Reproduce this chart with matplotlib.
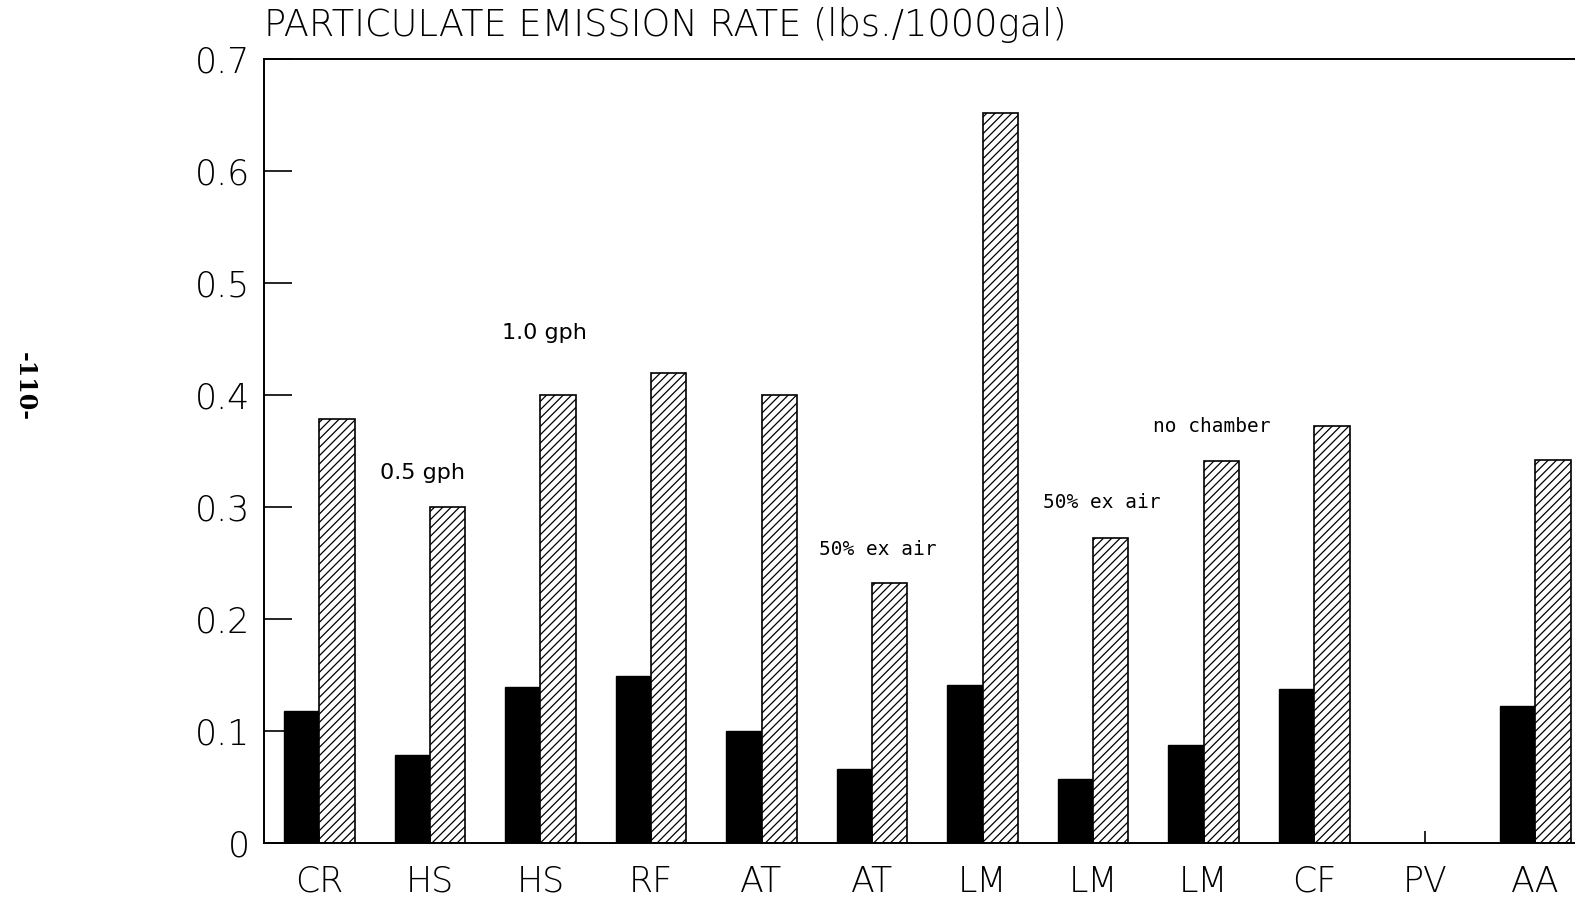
import numpy as np
import matplotlib.pyplot as plt

# values
labels = ["CR", "HS", "HS", "RF", "AT", "AT", "LM", "LM", "LM", "CF", "PV", "AA"]
solid_vals = [0.118, 0.078, 0.139, 0.149, 0.100, 0.066, 0.141, 0.057, 0.087, 0.137, 0.0, 0.122]
hatch_vals = [0.379, 0.300, 0.400, 0.420, 0.400, 0.232, 0.652, 0.272, 0.341, 0.372, 0.0, 0.342]

notes = ["0.5 gph", "1.0 gph", "50% ex air", "50% ex air", "no chamber"]
note_x = [0.93, 2.04, 5.05, 7.08, 8.07]
note_y = [0.330, 0.455, 0.262, 0.304, 0.372]
note_mono = [False, False, True, True, True]

plt.rcParams['font.family'] = ['DejaVu Sans']
plt.rcParams['hatch.linewidth'] = 0.9

fig = plt.figure(figsize=(15.75, 9), dpi=100)
ax = fig.add_axes([0.1677, 0.0636, 0.8323, 0.8706])

x = np.arange(len(labels))
w = 0.32
ax.bar(x - w / 2, solid_vals, w, color='black', edgecolor='black', linewidth=1)
ax.bar(x + w / 2, hatch_vals, w, color='white', edgecolor='black', hatch='////', linewidth=1.2)

for t, nx, ny, mono in zip(notes, note_x, note_y, note_mono):
    if mono:
        ax.text(nx, ny, t, ha='center', va='center', fontsize=14, family='DejaVu Sans Mono')
    else:
        ax.text(nx, ny, t, ha='center', va='center', fontsize=16)

ax.set_xlim(-0.5, 11.36)
ax.set_ylim(0, 0.7)
ax.set_yticks(np.arange(0, 0.71, 0.1))
ax.set_yticklabels(["0", "0.1", "0.2", "0.3", "0.4", "0.5", "0.6", "0.7"])
ax.set_xticks(x)
ax.set_xticklabels(labels)
ax.tick_params(axis='y', direction='in', length=20, width=1.2, pad=10, labelsize=25)
ax.tick_params(axis='x', direction='in', length=9, width=1.2, pad=16, labelsize=25)
for lab in ax.get_xticklabels() + ax.get_yticklabels():
    lab.set_fontweight('light')

ax.spines['right'].set_visible(False)
for s in ['left', 'top', 'bottom']:
    ax.spines[s].set_linewidth(1.4)

fig.text(0.1677, 0.972, "PARTICULATE EMISSION RATE (lbs./1000gal)", ha='left', va='center',
         fontsize=26.5, fontweight='light')
fig.text(0.016, 0.57, "-110-", rotation=-90, ha='center', va='center', fontsize=17,
         fontweight='bold', family='DejaVu Serif')

fig.savefig("out.png", dpi=100)
